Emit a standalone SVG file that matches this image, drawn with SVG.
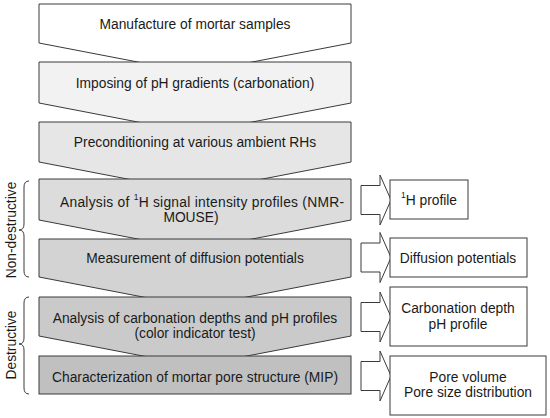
<svg xmlns="http://www.w3.org/2000/svg" width="550" height="418" viewBox="0 0 550 418">
<style>
.s{stroke:#3a3a3a;stroke-width:1;}
.t{font-family:"Liberation Sans",Arial,sans-serif;font-size:13.8px;fill:#1a1a1a;text-anchor:middle;dominant-baseline:central;}
.sup{font-size:8.5px;}
.br{fill:none;stroke:#3a3a3a;stroke-width:1;}
.ar{fill:#ffffff;}
.rb{fill:#ffffff;}
</style>
<rect width="550" height="418" fill="#ffffff"/>
<g id="n1"><polygon class="s" fill="#ffffff" points="39,4 351,4 351,43 195,73 39,43"/><text class="t" x="195" y="24">Manufacture of mortar samples</text></g>
<g id="n2"><polygon class="s" fill="#f2f2f2" points="39,62 351,62 351,103 195,133 39,103"/><text class="t" x="195" y="83">Imposing of pH gradients (carbonation)</text></g>
<g id="n3"><polygon class="s" fill="#e6e6e6" points="39,122 351,122 351,162 195,192 39,162"/><text class="t" x="195" y="142">Preconditioning at various ambient RHs</text></g>
<g id="n4"><polygon class="s" fill="#dcdcdc" points="39,179 351,179 351,220 195,250 39,220"/><text class="t" x="202" y="202" textLength="284">Analysis of <tspan class="sup" dy="-5">1</tspan><tspan dy="5">H signal intensity profiles (NMR-</tspan></text><text class="t" x="191" y="217">MOUSE)</text></g>
<g id="n5"><polygon class="s" fill="#d3d3d3" points="39,239 351,239 351,277 195,307 39,277"/><text class="t" x="195" y="258">Measurement of diffusion potentials</text></g>
<g id="n6"><polygon class="s" fill="#cacaca" points="39,297 351,297 351,336 195,366 39,336"/><text class="t" x="195" y="318">Analysis of carbonation depths and pH profiles</text><text class="t" x="195" y="333">(color indicator test)</text></g>
<g id="n7"><rect class="s" fill="#c0c0c0" x="39" y="356" width="312" height="38"/><text class="t" x="195" y="377">Characterization of mortar pore structure (MIP)</text></g>
<g id="g-nd"><path class="br" d="M29,181 Q24,181 24,187 L24,224 Q24,230 19,230 Q24,230 24,236 L24,271 Q24,277 29,277"/><text class="t" transform="translate(11,230) rotate(-90)">Non-destructive</text></g>
<g id="g-d"><path class="br" d="M29,297 Q24,297 24,303 L24,338 Q24,344 19,344 Q24,344 24,350 L24,388 Q24,394 29,394"/><text class="t" transform="translate(11,345) rotate(-90)">Destructive</text></g>
<g id="connectors">
<polygon class="s ar" points="361,185.5 380,185.5 380,175 391,200 380,225 380,214.5 361,214.5"/>
<polygon class="s ar" points="361,243 380,243 380,232.5 391,257.5 380,282.5 380,272 361,272"/>
<polygon class="s ar" points="361,302.5 380,302.5 380,292 391,317 380,342 380,331.5 361,331.5"/>
<polygon class="s ar" points="361,361.5 380,361.5 380,351 391,376 380,401 380,390.5 361,390.5"/>
</g>
<g id="r1"><rect class="s rb" x="390" y="180" width="78" height="39"/><text class="t" x="429" y="200"><tspan class="sup" dy="-5">1</tspan><tspan dy="5">H profile</tspan></text></g>
<g id="r2"><rect class="s rb" x="390" y="238" width="137" height="39"/><text class="t" x="458" y="258">Diffusion potentials</text></g>
<g id="r3"><rect class="s rb" x="390" y="287" width="137" height="59"/><text class="t" x="458" y="308">Carbonation depth</text><text class="t" x="458" y="324">pH profile</text></g>
<g id="r4"><rect class="s rb" x="390" y="356" width="156" height="59"/><text class="t" x="468" y="377">Pore volume</text><text class="t" x="468" y="392">Pore size distribution</text></g>
</svg>
